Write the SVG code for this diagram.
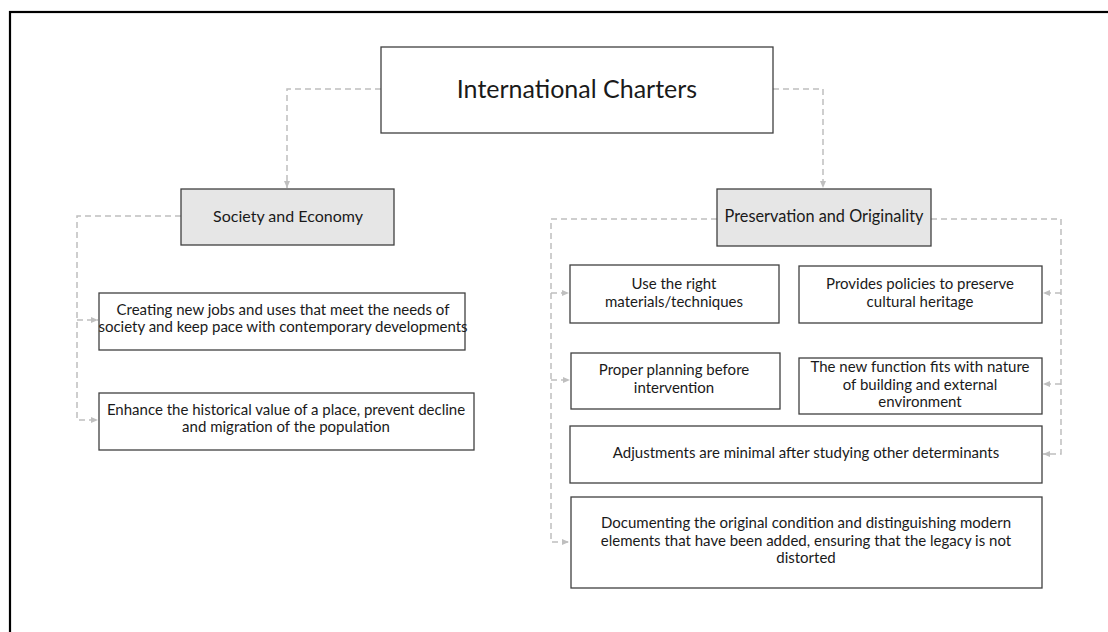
<svg xmlns="http://www.w3.org/2000/svg" width="1108" height="632" viewBox="0 0 1108 632">
<defs>
<style>
.box{fill:#fff;stroke:#404040;stroke-width:1.3}
.hdr{fill:#e6e6e6;stroke:#404040;stroke-width:1.3}
.t{font-family:Lato,"Liberation Sans",sans-serif;fill:#1a1a1a;text-anchor:middle}
.c{fill:none;stroke:#bfbfbf;stroke-width:1.5;stroke-dasharray:6 4}
</style>
<marker id="ah" markerWidth="8" markerHeight="8" refX="7" refY="4" orient="auto" markerUnits="userSpaceOnUse">
<path d="M0,1 L7,4 L0,7 Z" fill="#bfbfbf"/>
</marker>
</defs>
<rect x="10" y="12" width="1110" height="640" fill="#fff" stroke="#000" stroke-width="2.2"/>
<g id="connectors">
<path class="c" d="M381,89 H287 V188" marker-end="url(#ah)"/>
<path class="c" d="M773,89 H823 V188" marker-end="url(#ah)"/>
<path class="c" d="M181,216 H77 V420 H98" marker-end="url(#ah)"/>
<path class="c" d="M77,320 H98" marker-end="url(#ah)"/>
<path class="c" d="M717,219 H551 V542 H569" marker-end="url(#ah)"/>
<path class="c" d="M551,293 H569" marker-end="url(#ah)"/>
<path class="c" d="M551,380 H570" marker-end="url(#ah)"/>
<path class="c" d="M931,219 H1061 V454 H1043" marker-end="url(#ah)"/>
<path class="c" d="M1061,293 H1043" marker-end="url(#ah)"/>
<path class="c" d="M1061,384 H1043" marker-end="url(#ah)"/>
</g>
<g id="n-top">
<rect class="box" x="381" y="47" width="392" height="86"/>
<text class="t" x="577" y="98" font-size="25">International Charters</text>
</g>
<g id="n-society">
<rect class="hdr" x="181" y="189" width="213" height="56"/>
<text class="t" x="288" y="222" font-size="16">Society and Economy</text>
</g>
<g id="n-preservation">
<rect class="hdr" x="717" y="189" width="214" height="57"/>
<text class="t" x="824" y="222" font-size="16.3">Preservation and Originality</text>
</g>
<g id="n-jobs">
<rect class="box" x="99" y="293" width="366" height="57"/>
<text class="t" x="283" y="315" font-size="15">Creating new jobs and uses that meet the needs of</text>
<text class="t" x="283" y="332" font-size="15">society and keep pace with contemporary developments</text>
</g>
<g id="n-enhance">
<rect class="box" x="99" y="393" width="375" height="57"/>
<text class="t" x="286" y="415" font-size="15">Enhance the historical value of a place, prevent decline</text>
<text class="t" x="286" y="432" font-size="15">and migration of the population</text>
</g>
<g id="n-materials">
<rect class="box" x="570" y="265" width="209" height="58"/>
<text class="t" x="674" y="289" font-size="15">Use the right</text>
<text class="t" x="674" y="307" font-size="15">materials/techniques</text>
</g>
<g id="n-policies">
<rect class="box" x="799" y="266" width="243" height="57"/>
<text class="t" x="920" y="289" font-size="15">Provides policies to preserve</text>
<text class="t" x="920" y="307" font-size="15">cultural heritage</text>
</g>
<g id="n-planning">
<rect class="box" x="571" y="353" width="209" height="56"/>
<text class="t" x="674" y="375" font-size="15">Proper planning before</text>
<text class="t" x="674" y="393" font-size="15">intervention</text>
</g>
<g id="n-function">
<rect class="box" x="799" y="358" width="243" height="56"/>
<text class="t" x="920" y="372" font-size="15">The new function fits with nature</text>
<text class="t" x="920" y="390" font-size="15">of  building and external</text>
<text class="t" x="920" y="407" font-size="15">environment</text>
</g>
<g id="n-adjust">
<rect class="box" x="570" y="426" width="472" height="57"/>
<text class="t" x="806" y="458" font-size="15">Adjustments are minimal after studying other determinants</text>
</g>
<g id="n-document">
<rect class="box" x="571" y="497" width="471" height="91"/>
<text class="t" x="806" y="528" font-size="15">Documenting the original condition and distinguishing modern</text>
<text class="t" x="806" y="546" font-size="15">elements that have been added, ensuring that the legacy is not</text>
<text class="t" x="806" y="563" font-size="15">distorted</text>
</g>
</svg>
